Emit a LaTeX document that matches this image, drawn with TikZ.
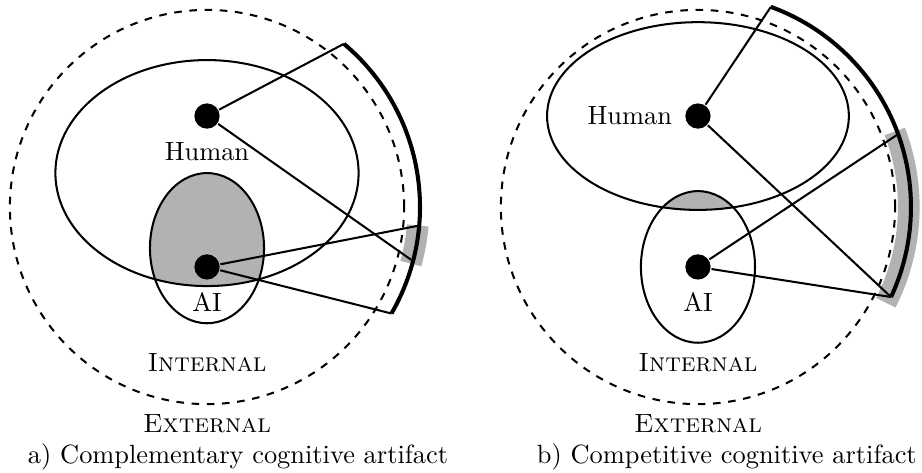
\documentclass[tikz,border=0pt]{standalone}
\usepackage{tikz}
\usetikzlibrary{positioning}

\tikzset{
  agent/.style={circle,fill=black,inner sep=0pt,minimum size=0.35cm},
  reach/.style={ultra thick},
  overlap/.style={gray!60,line width=0.3cm},
}

\begin{document}
\begin{tikzpicture}[thick,font=\fontsize{10.4pt}{12.5pt}\selectfont]
\useasboundingbox (-2.867,-3.684) rectangle (9.903,2.867);
% a) complementary artifact
\begin{scope}
  \begin{scope}
    \clip (0,-0.57) ellipse (0.79 and 1.04);
    \fill[gray!60] (0,0.47) ellipse (2.10 and 1.565);
  \end{scope}
  \draw[dashed] (0,0) circle (2.73);
  \draw (0,0.47) ellipse (2.10 and 1.565);
  \draw (0,-0.57) ellipse (0.79 and 1.04);
  \node[agent] (hA) at (0,1.26) {};
  \node[agent] (aA) at (0,-0.83) {};
  \node[below=0.04cm of hA] (hlA) {Human};
  \node[below=0.04cm of aA] (alA) {AI};
  \node (inA) at (0,-2.15) {\textsc{Internal}};
  \node (exA) at (0,-3.0) {\textsc{External}};
  \node (capA) at (0.43,-3.46) {a) Complementary cognitive artifact};
  \draw[overlap] (-5:2.93) arc (-5:-15.5:2.93);
  \draw[reach] (50:2.95) arc (50:-30:2.95);
  \coordinate (h1A) at (50:2.95);
  \coordinate (h2A) at (-14.5:2.92);
  \coordinate (a1A) at (-5:2.95);
  \coordinate (a2A) at (-30:2.95);
  \draw (hA) -- (h1A);
  \draw (hA) -- (h2A);
  \draw (aA) -- (a1A);
  \draw (aA) -- (a2A);
\end{scope}
% b) competitive artifact
\begin{scope}[shift={(6.8,0)}]
  \begin{scope}
    \clip (0,-0.83) ellipse (0.79 and 1.05);
    \fill[gray!60] (0,1.26) ellipse (2.09 and 1.30);
  \end{scope}
  \draw[dashed] (0,0) circle (2.73);
  \draw (0,1.26) ellipse (2.09 and 1.30);
  \draw (0,-0.83) ellipse (0.79 and 1.05);
  \node[agent] (hB) at (0,1.26) {};
  \node[agent] (aB) at (0,-0.83) {};
  \node[left=0.04cm of hB] (hlB) {Human};
  \node[below=0.04cm of aB] (alB) {AI};
  \node (inB) at (0,-2.15) {\textsc{Internal}};
  \node (exB) at (0,-3.0) {\textsc{External}};
  \node (capB) at (0.40,-3.46) {b) Competitive cognitive artifact};
  \draw[overlap] (21:2.92) arc (21:-27:2.92);
  \draw[reach] (70:2.95) arc (70:-25:2.95);
  \coordinate (h1B) at (70:2.95);
  \coordinate (hB2) at (-25:2.95);
  \coordinate (a1B) at (20:2.95);
  \draw (hB) -- (h1B);
  \draw (hB) -- (hB2);
  \draw (aB) -- (a1B);
  \draw (aB) -- (hB2);
\end{scope}
\end{tikzpicture}
\end{document}
